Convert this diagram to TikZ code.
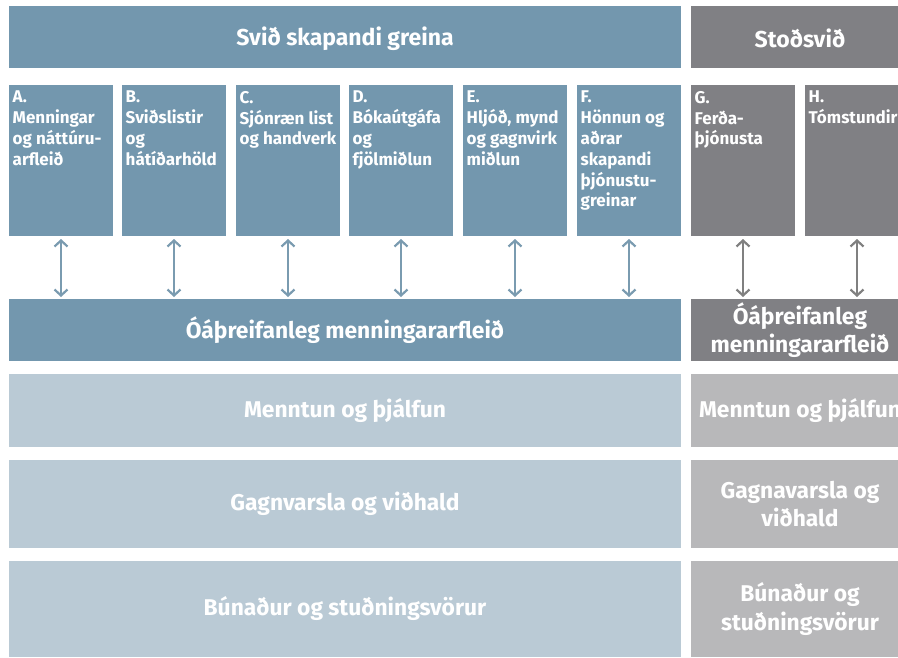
\documentclass[tikz,border=0pt]{standalone}
\usepackage{fontspec}
\setmainfont{Fira Sans}
\usetikzlibrary{arrows.meta}
\definecolor{cblue}{HTML}{7397AE}
\definecolor{cgray}{HTML}{808084}
\definecolor{lblue}{HTML}{BACAD5}
\definecolor{lgray}{HTML}{B8B8BA}
\definecolor{ablue}{HTML}{7A9BB0}
\definecolor{agray}{HTML}{808080}
\tikzset{
  panel/.style={anchor=north west, inner sep=0pt, outer sep=0pt, draw=none},
  bigtxt/.style={text=white, font=\fontsize{22.8}{28.5}\selectfont\bfseries, align=center},
  headtxt/.style={text=white, font=\fontsize{23}{26}\selectfont\bfseries, align=center},
  boxtxt/.style={text=white, font=\fontsize{17}{20.8}\selectfont\bfseries, align=left, anchor=north west, inner sep=0pt},
  link/.style={line width=2.2pt, {Straight Barb[length=6pt,width=13pt]}-{Straight Barb[length=6pt,width=13pt]}, shorten <=3pt, shorten >=2pt},
}
\begin{document}
\begin{tikzpicture}[x=1pt,y=-1pt]
\useasboundingbox (0,0) rectangle (898,657);
\clip (0,0) rectangle (898,657);
% headers
\node[panel, fill=cblue, minimum width=672pt, minimum height=62pt] (H1) at (9,6) {};
\node[panel, fill=cgray, minimum width=218pt, minimum height=62pt] (H2) at (691,6) {};
\node[headtxt] (H1t) at ([yshift=-2pt]H1.center) {Svið skapandi greina};
\node[headtxt] (H2t) at ([yshift=-1pt]H2.center) {Stoðsvið};
% small boxes
\foreach \n/\x/\c in {A/9/cblue, B/122/cblue, C/236/cblue, D/349/cblue, E/463/cblue, F/577/cblue, G/691/cgray, H/805/cgray}{
  \node[panel, fill=\c, minimum width=104pt, minimum height=151pt] (\n) at (\x,85) {};
}
\node[boxtxt] (At) at ([xshift=3.5pt,yshift=-6pt]A.north west) {A.\\Menningar\\og náttúru-\\arfleið};
\node[boxtxt] (Bt) at ([xshift=3.5pt,yshift=-6pt]B.north west) {B.\\Sviðslistir\\og\\hátíðarhöld};
\node[boxtxt] (Ct) at ([xshift=3.5pt,yshift=-6pt]C.north west) {C.\\Sjónræn list\\og handverk};
\node[boxtxt] (Dt) at ([xshift=3.5pt,yshift=-6pt]D.north west) {D.\\Bókaútgáfa\\og\\fjölmiðlun};
\node[boxtxt] (Et) at ([xshift=3.5pt,yshift=-6pt]E.north west) {E.\\Hljóð, mynd\\og gagnvirk\\miðlun};
\node[boxtxt] (Ft) at ([xshift=3.5pt,yshift=-6pt]F.north west) {F.\\Hönnun og\\aðrar\\skapandi\\þjónustu-\\greinar};
\node[boxtxt] (Gt) at ([xshift=3.5pt,yshift=-6pt]G.north west) {G.\\Ferða-\\þjónusta};
\node[boxtxt] (Ht) at ([xshift=3.5pt,yshift=-6pt]H.north west) {H.\\Tómstundir};
% big rows
\node[panel, fill=cblue, minimum width=672pt, minimum height=62pt] (O1) at (9,299) {};
\node[panel, fill=cgray, minimum width=218pt, minimum height=62pt] (O2) at (691,299) {};
\node[panel, fill=lblue, minimum width=672pt, minimum height=73pt] (M1) at (9,374) {};
\node[panel, fill=lgray, minimum width=218pt, minimum height=73pt] (M2) at (691,374) {};
\node[panel, fill=lblue, minimum width=672pt, minimum height=88pt] (G1) at (9,460) {};
\node[panel, fill=lgray, minimum width=218pt, minimum height=88pt] (G2) at (691,460) {};
\node[panel, fill=lblue, minimum width=672pt, minimum height=96pt] (B1) at (9,561) {};
\node[panel, fill=lgray, minimum width=218pt, minimum height=96pt] (B2) at (691,561) {};
\node[bigtxt] (O1t) at (O1.center) {Óáþreifanleg menningararfleið};
\node[bigtxt] (O2t) at (O2.center) {Óáþreifanleg\\menningararfleið};
\node[bigtxt] (M1t) at (M1.center) {Menntun og þjálfun};
\node[bigtxt] (M2t) at (M2.center) {Menntun og þjálfun};
\node[bigtxt] (G1t) at (G1.center) {Gagnvarsla og viðhald};
\node[bigtxt] (G2t) at (G2.center) {Gagnavarsla og\\viðhald};
\node[bigtxt] (B1t) at (B1.center) {Búnaður og stuðningsvörur};
\node[bigtxt] (B2t) at (B2.center) {Búnaður og\\stuðningsvörur};
% arrows
\foreach \n in {A,B,C,D,E,F}{
  \draw[link, draw=ablue] (\n.south) -- (\n.south |- O1.north);
}
\foreach \n in {G,H}{
  \draw[link, draw=agray] (\n.south) -- (\n.south |- O2.north);
}
\end{tikzpicture}
\end{document}
